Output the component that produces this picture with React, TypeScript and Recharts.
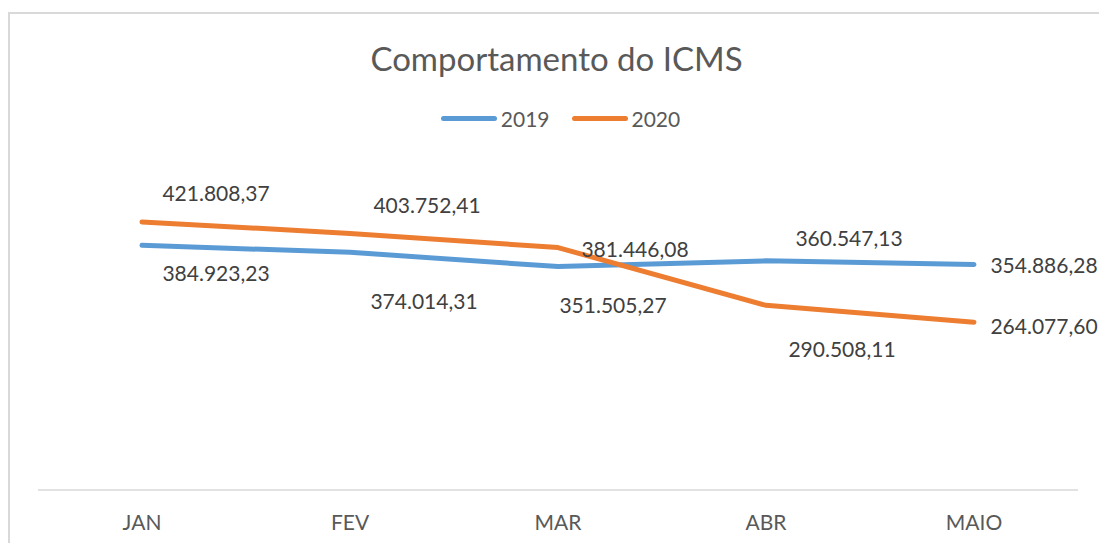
import React from "react";
import { LineChart, Line, XAxis, YAxis, LabelList } from "recharts";

const categories = ["JAN", "FEV", "MAR", "ABR", "MAIO"];
const values2019 = [384923.23, 374014.31, 351505.27, 360547.13, 354886.28];
const values2020 = [421808.37, 403752.41, 381446.08, 290508.11, 264077.6];
const seriesNames = ["2019", "2020"];

const data = categories.map((c, i) => ({
  month: c,
  y2019: values2019[i],
  y2020: values2020[i],
}));

// label offsets (layout only)
const off2019 = [
  [74, 27],
  [74, 48],
  [55, 38],
  [83, -23],
  [70, 0],
];
const off2020 = [
  [74, -29],
  [77, -29],
  [77, 1],
  [76, 43],
  [70, 3],
];

const BLUE = "#5B9BD5";
const ORANGE = "#ED7D31";
const FONT = "Lato, 'Open Sans', sans-serif";

function fmt(v: number) {
  const fixed = v.toFixed(2);
  const [intPart, dec] = fixed.split(".");
  const withSep = intPart.replace(/\B(?=(\d{3})+(?!\d))/g, ".");
  return withSep + "," + dec;
}

const makeLabel = (offs: number[][]) => (props: any) => {
  const { x, y, value, index } = props;
  const [dx, dy] = offs[index] || [0, 0];
  return (
    <text
      x={x + dx}
      y={y + dy}
      textAnchor="middle"
      dominantBaseline="central"
      fontFamily={FONT}
      fontSize={21}
      fill="#404040"
    >
      {fmt(value)}
    </text>
  );
};

const Tick = (props: any) => {
  const { x, y, payload } = props;
  return (
    <text
      x={x}
      y={y + 31}
      textAnchor="middle"
      dominantBaseline="central"
      fontFamily={FONT}
      fontSize={21}
      fill="#595959"
    >
      {payload.value}
    </text>
  );
};

export default function App() {
  return (
    <div
      style={{
        position: "fixed",
        left: 0,
        top: 0,
        width: 1099,
        height: 543,
        overflow: "hidden",
        background: "#fff",
      }}
    >
      <div
        style={{
          position: "absolute",
          left: 8,
          top: 12,
          width: 1200,
          height: 700,
          borderLeft: "2px solid #d9d9d9",
          borderTop: "2px solid #d9d9d9",
          boxSizing: "border-box",
        }}
      />
      <div
        style={{
          position: "absolute",
          left: 8,
          top: 36,
          width: 1097,
          textAlign: "center",
          fontFamily: FONT,
          fontSize: 33,
          color: "#595959",
          lineHeight: "44px",
        }}
      >
        Comportamento do ICMS
      </div>
      <div
        style={{
          position: "absolute",
          left: 8,
          top: 106,
          width: 1091,
          display: "flex",
          justifyContent: "center",
          alignItems: "center",
          fontFamily: FONT,
          fontSize: 21,
          color: "#595959",
          paddingLeft: 14,
          boxSizing: "border-box",
        }}
      >
        {[BLUE, ORANGE].map((c, i) => (
          <div key={i} style={{ display: "flex", alignItems: "center", marginRight: i === 0 ? 22 : 0 }}>
            <div style={{ width: 56, height: 5, borderRadius: 3, background: c, marginRight: 4 }} />
            <span>{seriesNames[i]}</span>
          </div>
        ))}
      </div>
      <div style={{ position: "absolute", left: 8, top: 8 }}>
        <LineChart
          width={1091}
          height={535}
          data={data}
          margin={{ top: 196, right: 21, bottom: 13, left: 30 }}
          style={{ overflow: "visible" }}
        >
          <XAxis
            dataKey="month"
            axisLine={{ stroke: "#d9d9d9", strokeWidth: 1.5 }}
            tickLine={false}
            tickSize={0}
            tickMargin={0}
            height={40}
            tick={<Tick />}
            interval={0}
            padding={{ left: 104, right: 104 }}
          />
          <YAxis hide domain={[0, 450000]} />
          <Line
            type="linear"
            dataKey="y2019"
            name="2019"
            stroke={BLUE}
            strokeWidth={5}
            strokeLinecap="round"
            strokeLinejoin="round"
            dot={false}
            activeDot={false}
            isAnimationActive={false}
          >
            <LabelList dataKey="y2019" content={makeLabel(off2019)} />
          </Line>
          <Line
            type="linear"
            dataKey="y2020"
            name="2020"
            stroke={ORANGE}
            strokeWidth={5}
            strokeLinecap="round"
            strokeLinejoin="round"
            dot={false}
            activeDot={false}
            isAnimationActive={false}
          >
            <LabelList dataKey="y2020" content={makeLabel(off2020)} />
          </Line>
        </LineChart>
      </div>
    </div>
  );
}
